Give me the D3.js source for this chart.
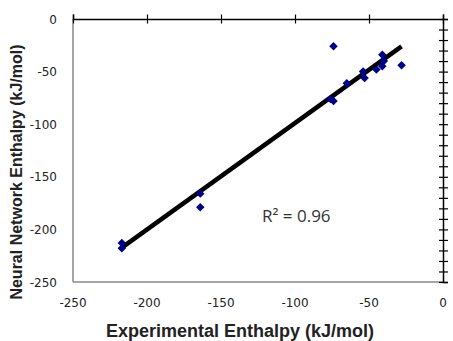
<!DOCTYPE html>
<html>
<head>
<meta charset="utf-8">
<script src="https://cdn.jsdelivr.net/npm/d3@7"></script>
<style>
	body { margin: 0; background: #fff; }
	svg { display: block; }
</style>
</head>
<body>
<svg id="chart" width="453" height="341"></svg>
<script>
// experimental vs predicted enthalpy (kJ/mol)
var expValues = [-74, -41, -40, -41, -28, -45, -54, -53, -65, -76, -74, -164, -164, -217, -217];
var nnValues  = [-26, -34, -40, -45, -44, -48, -50, -56, -61, -76, -78, -166, -179, -213, -218];
var xTicks = [-250, -200, -150, -100, -50, 0];
var yTicks = [0, -50, -100, -150, -200, -250];
var rSquaredLabel = "R\u00b2 = 0.96";

var svg = d3.select("#chart"),
	margin = {top: 19, right: 10, bottom: 59, left: 73},
	width = 443 - margin.left,
	height = 282 - margin.top;

var g = svg.append("g").attr("transform", "translate(" + margin.left + "," + margin.top + ")");

var x = d3.scaleLinear().domain([-250, 0]).range([0, width]);
var y = d3.scaleLinear().domain([-250, 0]).range([height, 0]);

// plot border (left + bottom grey)
g.append("line").attr("x1", 0).attr("x2", 0).attr("y1", 0).attr("y2", height)
	.attr("stroke", "#888").attr("stroke-width", 1.5);
g.append("line").attr("x1", 0).attr("x2", width).attr("y1", height).attr("y2", height)
	.attr("stroke", "#888").attr("stroke-width", 1.5);

// top axis at y = 0
var topAxis = g.append("g")
	.attr("transform", "translate(0," + y(0) + ")")
	.call(d3.axisTop(x).tickValues(xTicks).tickSize(4.5).tickFormat(""));
topAxis.selectAll(".tick line").attr("y2", 4.5).attr("y1", -4.5).attr("stroke-width", 1.2);
topAxis.select(".domain").attr("stroke-width", 1.5);

// right axis at x = 0
var rightAxis = g.append("g")
	.attr("transform", "translate(" + x(0) + ",0)")
	.call(d3.axisRight(y).tickValues(d3.range(-250, 1, 10)).tickSize(5).tickFormat(""));
rightAxis.selectAll(".tick line").attr("x1", -4).attr("x2", 5).attr("stroke-width", 1.2);
rightAxis.select(".domain").attr("stroke-width", 1.5);

// tick labels
g.append("g").selectAll("text").data(xTicks).enter().append("text")
	.attr("x", function(d) { return x(d); })
	.attr("y", height + 24.5)
	.attr("text-anchor", "middle")
	.style("font", "12px 'DejaVu Sans'")
	.attr("fill", "#222")
	.text(function(d) { return d; });

g.append("g").selectAll("text").data(yTicks).enter().append("text")
	.attr("x", -16)
	.attr("y", function(d) { return y(d) + 4.5; })
	.attr("text-anchor", "end")
	.style("font", "12px 'DejaVu Sans'")
	.attr("fill", "#222")
	.text(function(d) { return d; });

// linear trend line (least squares)
var mx = d3.mean(expValues),
	my = d3.mean(nnValues),
	sxy = d3.sum(expValues, function(v, i) { return (v - mx) * (nnValues[i] - my); }),
	sxx = d3.sum(expValues, function(v) { return (v - mx) * (v - mx); }),
	slope = sxy / sxx,
	intercept = my - slope * mx,
	xExt = d3.extent(expValues);

g.append("line")
	.attr("x1", x(xExt[0])).attr("y1", y(slope * xExt[0] + intercept))
	.attr("x2", x(xExt[1])).attr("y2", y(slope * xExt[1] + intercept))
	.attr("stroke", "#000").attr("stroke-width", 4.5);

// markers
g.append("g").selectAll("path").data(expValues).enter().append("path")
	.attr("d", d3.symbol().type(d3.symbolSquare).size(36))
	.attr("transform", function(d, i) { return "translate(" + x(d) + "," + y(nnValues[i]) + ") rotate(45)"; })
	.attr("fill", "#00008b");

// R squared
g.append("text")
	.attr("x", 189).attr("y", 203)
	.style("font", "17px 'Open Sans'")
	.attr("fill", "#333")
	.text(rSquaredLabel);

// axis titles
svg.append("text")
	.attr("x", 240).attr("y", 337)
	.attr("text-anchor", "middle")
	.style("font", "bold 18px 'Liberation Sans'")
	.attr("fill", "#222")
	.text("Experimental Enthalpy (kJ/mol)");

svg.append("text")
	.attr("transform", "translate(22,172) rotate(-90)")
	.attr("text-anchor", "middle")
	.style("font", "bold 16px 'Liberation Sans'")
	.attr("fill", "#222")
	.text("Neural Network Enthalpy (kJ/mol)");
</script>
</body>
</html>
